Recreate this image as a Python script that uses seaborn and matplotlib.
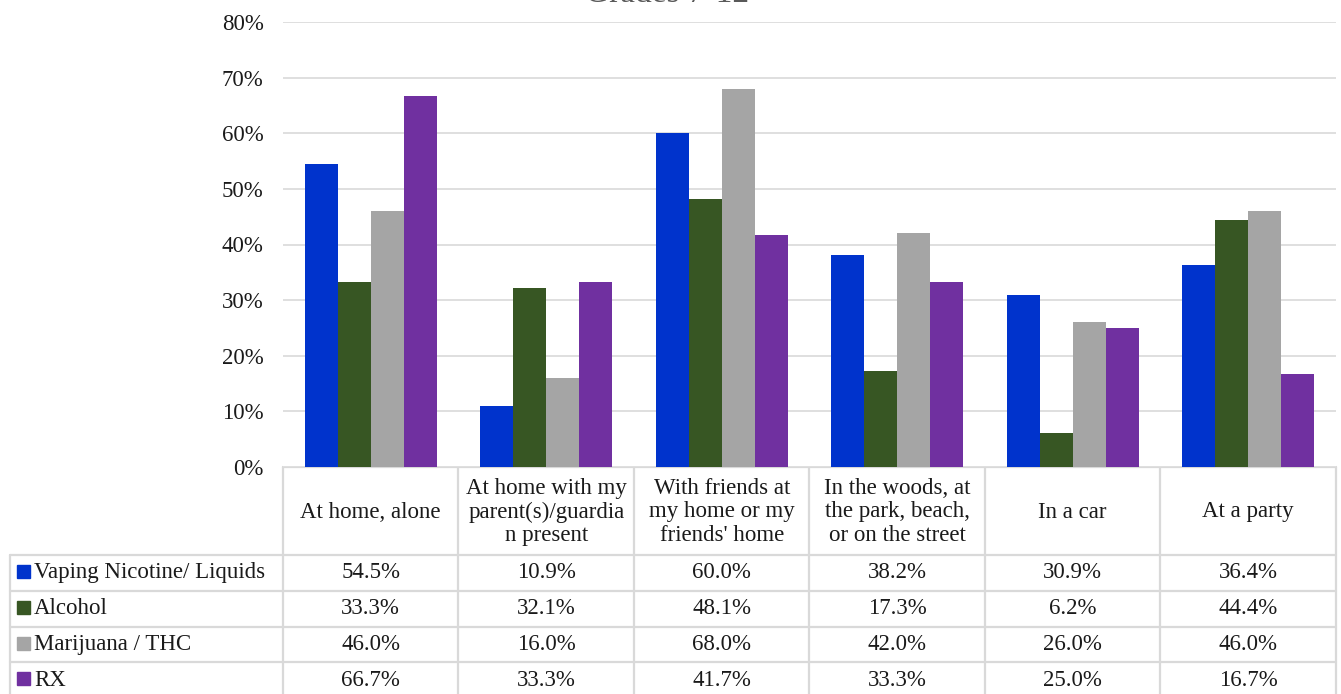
import matplotlib
matplotlib.use("Agg")
import matplotlib.pyplot as plt
import seaborn as sns
import pandas as pd

# Data
categories = [
    "At home, alone",
    "At home with my\nparent(s)/guardia\nn present",
    "With friends at\nmy home or my\nfriends' home",
    "In the woods, at\nthe park, beach,\nor on the street",
    "In a car",
    "At a party",
]
series = ["Vaping Nicotine/ Liquids", "Alcohol", "Marijuana / THC", "RX"]
vaping = [54.5, 10.9, 60.0, 38.2, 30.9, 36.4]
alcohol = [33.3, 32.1, 48.1, 17.3, 6.2, 44.4]
marijuana = [46.0, 16.0, 68.0, 42.0, 26.0, 46.0]
rx = [66.7, 33.3, 41.7, 33.3, 25.0, 16.7]
colors = ["#0033CC", "#375623", "#A5A5A5", "#7030A0"]
yticks = [0, 10, 20, 30, 40, 50, 60, 70, 80]

values = [vaping, alcohol, marijuana, rx]
rows = []
for s, vals in zip(series, values):
    for c, v in zip(categories, vals):
        rows.append({"Location": c, "Substance": s, "Pct": v})
df = pd.DataFrame(rows)

sns.set_theme(style="white")
plt.rcParams["font.family"] = ["Liberation Serif", "DejaVu Serif"]
text_color = "#1a1a1a"
grid_color = "#d9d9d9"
fs = 16.5

W, H = 1341, 694
fig = plt.figure(figsize=(W / 100, H / 100), dpi=100)

# Plot area in pixel units
left_px, right_px = 283, 1336
top_px, zero_px = 22, 467
ax = fig.add_axes([left_px / W, 1 - zero_px / H, (right_px - left_px) / W, (zero_px - top_px) / H])

sns.barplot(data=df, x="Location", y="Pct", hue="Substance", hue_order=series,
            palette=colors, width=0.75, gap=0, saturation=1, ax=ax,
            legend=False, errorbar=None, linewidth=0)
ax.set_xlim(-0.5, len(categories) - 0.5)
ax.set_ylim(0, 80)
ax.set_yticks(yticks)
ax.set_yticklabels([f"{t}%" for t in yticks], fontsize=fs, color=text_color)
ax.tick_params(axis="y", length=0, pad=14)
ax.set_xticks([])
ax.set_xlabel("")
ax.set_ylabel("")
ax.yaxis.grid(True, color=grid_color, linewidth=1.2)
ax.set_axisbelow(True)
for sp in ax.spines.values():
    sp.set_visible(False)

# Title (clipped by the top edge)
fig.text(667 / W, 1 - 2 / H, "Grades 7-12", ha="center", va="baseline",
         fontsize=24, color="#595959")

# Data table below the plot
tab = fig.add_axes([0, 0, 1, 1], zorder=-1)
tab.set_xlim(0, W)
tab.set_ylim(H, 0)
tab.axis("off")

cell_w = (right_px - left_px) / len(categories)
header_bottom = 555
row_h = 35.8
label_left = 10
n_rows = len(series)
table_bottom = header_bottom + row_h * n_rows
lw = 1.6

# horizontal lines
tab.plot([left_px, right_px], [zero_px, zero_px], color=grid_color, lw=lw)
for i in range(n_rows + 1):
    y = header_bottom + i * row_h
    tab.plot([label_left, right_px], [y, y], color=grid_color, lw=lw)
# vertical lines
for j in range(len(categories) + 1):
    x = left_px + j * cell_w
    tab.plot([x, x], [zero_px, table_bottom], color=grid_color, lw=lw)
tab.plot([label_left, label_left], [header_bottom, table_bottom], color=grid_color, lw=lw)

# header labels
for j, c in enumerate(categories):
    tab.text(left_px + (j + 0.5) * cell_w, (zero_px + header_bottom) / 2 + 1, c,
             ha="center", va="center", fontsize=fs, color=text_color, linespacing=1.15)

# rows
for i, (s, vals, col) in enumerate(zip(series, values, colors)):
    yc = header_bottom + (i + 0.5) * row_h
    tab.add_patch(plt.Rectangle((17, yc - 8), 13, 13, color=col))
    tab.text(34, yc, s, ha="left", va="center", fontsize=fs, color=text_color)
    for j, v in enumerate(vals):
        tab.text(left_px + (j + 0.5) * cell_w, yc, f"{v:.1f}%", ha="center",
                 va="center", fontsize=fs, color=text_color)

fig.savefig("out.png", dpi=100)
